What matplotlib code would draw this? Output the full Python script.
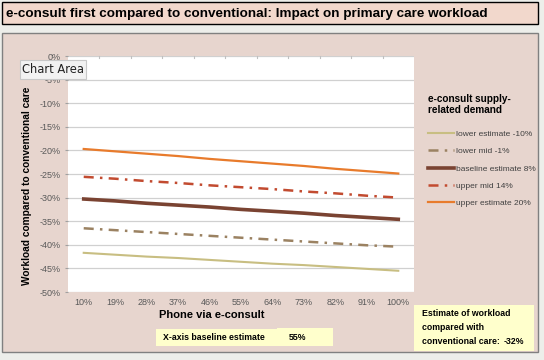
import matplotlib
matplotlib.use('Agg')
import matplotlib.pyplot as plt
from matplotlib.patches import Rectangle

plt.rcParams['font.family'] = ['Liberation Sans', 'DejaVu Sans']

x_labels = ['10%', '19%', '28%', '37%', '46%', '55%', '64%', '73%', '82%', '91%', '100%']
y_ticks = [0, -5, -10, -15, -20, -25, -30, -35, -40, -45, -50]

lower = [-41.7, -42.1, -42.5, -42.8, -43.2, -43.6, -44.0, -44.3, -44.7, -45.1, -45.5]
lower_mid = [-36.5, -36.9, -37.3, -37.7, -38.1, -38.5, -38.9, -39.3, -39.7, -40.1, -40.4]
baseline = [-30.3, -30.7, -31.2, -31.6, -32.0, -32.5, -32.9, -33.3, -33.8, -34.2, -34.6]
upper_mid = [-25.6, -26.0, -26.5, -26.9, -27.4, -27.8, -28.2, -28.7, -29.1, -29.6, -30.0]
upper = [-19.7, -20.2, -20.7, -21.2, -21.8, -22.3, -22.8, -23.3, -23.9, -24.4, -24.9]

series_names = ['lower estimate -10%', 'lower mid -1%', 'baseline estimate 8%', 'upper mid 14%', 'upper estimate 20%']

W, H = 544, 360
def fx(px): return px / W
def fy(py): return 1 - py / H

fig = plt.figure(figsize=(5.44, 3.6), dpi=100)
fig.patch.set_facecolor('#EDEEEA')

# title box + chart area
fig.patches.append(Rectangle((fx(2), fy(24)), fx(536), 22 / H, transform=fig.transFigure,
                             facecolor='#F2D8CC', edgecolor='black', lw=1.0, zorder=0))
fig.text(fx(6), fy(13.5), 'e-consult first compared to conventional: Impact on primary care workload',
         fontsize=9.7, fontweight='bold', va='center', ha='left')
fig.patches.append(Rectangle((fx(2), fy(352)), fx(536), 319 / H, transform=fig.transFigure,
                             facecolor='#E7D5CE', edgecolor='#808080', lw=1.0, zorder=0))

ax = fig.add_axes([fx(68), fy(292), fx(346), 236 / H])
ax.set_zorder(1)
ax.set_facecolor('white')
xs = list(range(len(x_labels)))

ax.plot(xs, lower, color='#C8BE82', lw=1.5, label=series_names[0])
ax.plot(xs, lower_mid, color='#9B8262', lw=1.8, dashes=(4, 2.5, 1, 2.5), label=series_names[1])
ax.plot(xs, baseline, color='#7A4332', lw=2.6, label=series_names[2])
ax.plot(xs, upper_mid, color='#C24B30', lw=1.8, dashes=(4, 2.5, 1, 2.5), label=series_names[3])
ax.plot(xs, upper, color='#E87B2C', lw=1.6, label=series_names[4])

ax.set_xlim(-0.5, len(x_labels) - 0.5)
ax.set_ylim(-50, 0)
ax.set_yticks(y_ticks)
ax.set_yticklabels(['%d%%' % v for v in y_ticks])
ax.set_xticks(xs)
ax.set_xticklabels(x_labels)
ax.tick_params(axis='both', labelsize=6.5, labelcolor='#595959', length=0)
ax.tick_params(axis='y', pad=3, length=2, color='#A0A0A0')
ax.tick_params(axis='x', pad=4)
ax.grid(axis='y', color='#D0D0D0', lw=0.9)
ax.set_axisbelow(True)
for s in ax.spines.values():
    s.set_visible(False)

# category boundary ticks along the top (axis crosses at 0%)
for b in range(1, len(x_labels)):
    ax.plot([b - 0.5, b - 0.5], [0, -0.5], color='#C0C0C0', lw=0.8, clip_on=False)

fig.text(fx(27), fy(186), 'Workload compared to conventional care', rotation=90,
         fontsize=7.3, fontweight='bold', ha='center', va='center')
fig.text(fx(212), fy(315), 'Phone via e-consult', fontsize=8, fontweight='bold', ha='center', va='center')

leg = ax.legend(loc='upper left', bbox_to_anchor=(fx(420), fy(86)), bbox_transform=fig.transFigure,
                frameon=False, fontsize=6, labelcolor='#404040', handlelength=3.2, handletextpad=0.2,
                labelspacing=1.12, title='e-consult supply-\nrelated demand',
                title_fontproperties={'weight': 'bold', 'size': 7.2})
leg._legend_box.align = 'left'
leg._legend_box.sep = 11

# tooltip
fig.patches.append(Rectangle((fx(20), fy(79)), fx(66), 19 / H, transform=fig.transFigure,
                             facecolor='#F2F2F2', edgecolor='#C8C8C8', lw=0.8, zorder=5))
fig.text(fx(53), fy(69.5), 'Chart Area', fontsize=8.3, ha='center', va='center', color='#222222',
         family='DejaVu Sans', zorder=6)

# yellow note boxes
fig.patches.append(Rectangle((fx(156), fy(346)), fx(121), 17 / H, transform=fig.transFigure,
                             facecolor='#FFFFCC', edgecolor='none', zorder=2))
fig.patches.append(Rectangle((fx(277), fy(346)), fx(56), 18 / H, transform=fig.transFigure,
                             facecolor='#FFFFCC', edgecolor='none', zorder=2))
fig.text(fx(163), fy(338), 'X-axis baseline estimate', fontsize=6.3, fontweight='bold',
         ha='left', va='center', zorder=3)
fig.text(fx(289), fy(337), '55%', fontsize=6.3, fontweight='bold', ha='left', va='center', zorder=3)
fig.patches.append(Rectangle((fx(414), fy(351)), fx(120), 46 / H, transform=fig.transFigure,
                             facecolor='#FFFFCC', edgecolor='none', zorder=2))
fig.text(fx(422), fy(314), 'Estimate of workload', fontsize=6.3, fontweight='bold', ha='left', va='center', zorder=3)
fig.text(fx(422), fy(328), 'compared with', fontsize=6.3, fontweight='bold', ha='left', va='center', zorder=3)
fig.text(fx(422), fy(342), 'conventional care:', fontsize=6.3, fontweight='bold', ha='left', va='center', zorder=3)
fig.text(fx(504), fy(342), '-32%', fontsize=6.3, fontweight='bold', ha='left', va='center', zorder=3)

fig.savefig('out.png', dpi=100, facecolor=fig.get_facecolor())
